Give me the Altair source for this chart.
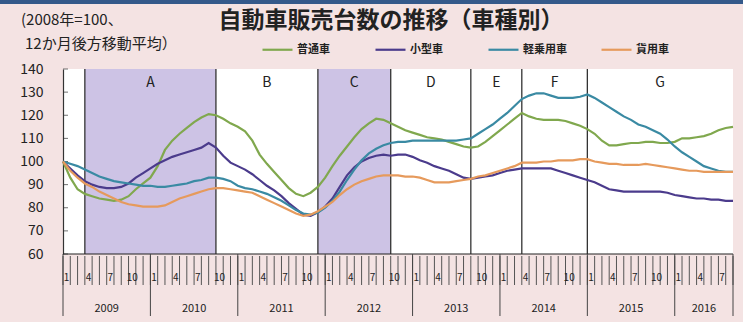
import altair as alt
import pandas as pd

# ---------------- data ----------------
months = ["2008-12"] + [f"{y}-{m:02d}" for y in range(2009, 2017) for m in range(1, 13)][:92]

futsu = [100, 93, 88, 86, 85, 84, 83.5, 83, 83.5, 85, 88, 90.5, 93, 98, 105, 109, 112, 114.5, 117, 119,
         120.5, 120, 118.5, 116.5, 115, 113, 109, 103, 99, 95.5, 92, 88.5, 86, 85, 86.5, 89, 93, 98, 102.5, 106.5,
         110.5, 114, 116.5, 118.5, 118, 116.5, 115, 113.5, 112.5, 111.5, 110.5, 110, 109.5, 108.5, 107.5, 106.5,
         106, 106.5, 108.5, 111, 113.5, 116, 118.5, 121, 119.5, 118.5, 118, 118, 118, 117.5, 116.5, 115.5, 114,
         112, 109, 107, 107, 107.5, 108, 108, 108.5, 108.5, 108, 108, 108.5, 110, 110, 110.5, 111, 112, 113.5,
         114.5, 115]
kogata = [100, 97, 94, 91.5, 90, 89, 88.5, 88.5, 89, 90.5, 93, 95, 97, 99, 100.5, 102, 103, 104, 105, 106,
          108, 106, 102.5, 99.5, 98, 96.5, 94.5, 92, 89.5, 87.5, 85, 82, 79.5, 77, 76.5, 78, 80.5, 84, 89, 94,
          97.5, 100, 101.5, 102.5, 103, 102.5, 103, 103, 102, 100.5, 99.5, 98, 97, 96, 94.5, 93, 92.5, 93, 93.5,
          94, 95, 96, 96.5, 97, 97, 97, 97, 97, 96, 95, 94, 93, 92, 91, 89.5, 88, 87.5, 87, 87, 87, 87, 87, 87,
          86.5, 85.5, 85, 84.5, 84, 84, 83.5, 83.5, 83, 83]
kei = [100, 99, 98, 96.5, 95, 93.5, 92.5, 91.5, 91, 90.5, 90, 89.5, 89.5, 89, 89, 89.5, 90, 90.5, 91.5, 92,
       93, 93, 92.5, 91.5, 89.5, 88.5, 88, 87, 86, 84.5, 83, 81, 79, 77.5, 77, 78, 80, 83, 87, 92, 96.5, 100.5,
       103.5, 105.5, 107, 108, 108.5, 108.5, 109, 109, 109, 109, 109, 109, 109, 109.5, 110, 112, 114, 116,
       118.5, 121, 124, 127, 128.5, 129.5, 129.5, 128.5, 127.5, 127.5, 127.5, 128, 129, 127.5, 125.5, 123.5,
       121.5, 119.5, 118, 116, 115, 113.5, 112, 109.5, 106.5, 104, 102, 100, 98, 97, 96, 95.5, 95.5]
kayo = [100, 96, 93, 90.5, 89, 87, 85.5, 84, 82.5, 81.5, 81, 80.5, 80.5, 80.5, 81, 82.5, 84, 85, 86, 87,
        88, 88.5, 88.5, 88, 87.5, 87, 86.5, 85, 83.5, 82, 80.5, 79, 77.5, 76.5, 77, 78.5, 80.5, 82.5, 85.5, 88,
        90, 91.5, 92.5, 93.5, 94, 94, 94, 93.5, 93.5, 93, 92, 91, 91, 91, 91.5, 92, 92.5, 93.5, 94, 95, 96, 97,
        98, 99.5, 99.5, 99.5, 100, 100, 100.5, 100.5, 100.5, 101, 101, 100, 99.5, 99, 99, 98.5, 98.5, 98.5, 99,
        98.5, 98, 97.5, 97, 96.5, 96, 96, 95.5, 95.5, 95.5, 95.5, 95.5]

series_names = ["普通車", "小型車", "軽乗用車", "貨用車"]
series_colors = ["#80a84e", "#4b3b8c", "#3a8aa3", "#e69a5c"]

region_names = ["A", "B", "C", "D", "E", "F", "G"]
region_start = [3, 21, 35, 45, 56, 63, 72]
region_end = [21, 35, 45, 56, 63, 72, 92]
region_shaded = [True, False, True, False, False, False, False]

years = [2009, 2010, 2011, 2012, 2013, 2014, 2015, 2016]
month_labels = [1, 4, 7, 10]
y_ticks = [60, 70, 80, 90, 100, 110, 120, 130, 140]

title_text = "自動車販売台数の推移（車種別）"
note_line1 = "(2008年=100、"
note_line2 = "12か月後方移動平均）"

# ---------------- tables ----------------
N = len(months) - 1  # 92
df = pd.DataFrame({"t": range(len(months)), "month": months,
                   "普通車": futsu, "小型車": kogata, "軽乗用車": kei, "貨用車": kayo})
long = df.melt(id_vars=["t", "month"], var_name="車種", value_name="指数")

reg = pd.DataFrame({"name": region_names, "start": region_start, "end": region_end,
                    "shaded": region_shaded})
reg["mid"] = (reg["start"] + reg["end"]) / 2

ticks_df = pd.DataFrame({"t": list(range(N + 1))})
ysep = [(y - 2009) * 12 for y in years] + [N]
ysep_df = pd.DataFrame({"t": ysep})
ylab_df = pd.DataFrame({"year": [str(y) for y in years],
                        "c": [(ysep[i] + ysep[i + 1]) / 2 for i in range(len(years))]})
mrows = []
for y in years:
    for m in month_labels:
        pos = (y - 2009) * 12 + (m - 1)
        if pos < N:
            mrows.append({"lab": str(m), "c": pos + 0.5})
mlab_df = pd.DataFrame(mrows)
yt_df = pd.DataFrame({"v": y_ticks})

# ---------------- chart ----------------
W, H = 670, 185
FONT = "Noto Sans CJK JP"
xs = alt.Scale(domain=[0, N], nice=False, zero=False)
ys = alt.Scale(domain=[60, 140], nice=False, zero=False)
yaxis = alt.Axis(values=y_ticks, title=None, grid=False, tickSize=0, labelPadding=20,
                 labelFontSize=14, labelFont=FONT, labelColor="#222222",
                 domainColor="#333333", domainWidth=1.2)

shade = alt.Chart(reg[reg["shaded"]]).mark_rect(color="#cdc3e5").encode(
    x=alt.X("start:Q", scale=xs, axis=None), x2="end:Q",
    y=alt.YDatum(140, scale=ys, axis=yaxis), y2=alt.Y2Datum(60))

bounds = alt.Chart(reg).mark_rule(color="#333333", strokeWidth=1.3).encode(
    x=alt.X("start:Q", scale=xs, axis=None),
    y=alt.YDatum(140, scale=ys, axis=yaxis), y2=alt.Y2Datum(60))

rlab = alt.Chart(reg).mark_text(font=FONT, fontSize=14, color="#222222").encode(
    x=alt.X("mid:Q", scale=xs, axis=None),
    y=alt.YDatum(134, scale=ys, axis=yaxis), text="name:N")

lines = alt.Chart(long).mark_line(strokeWidth=2.2).encode(
    x=alt.X("t:Q", scale=xs, axis=None),
    y=alt.Y("指数:Q", scale=ys, axis=yaxis),
    color=alt.Color("車種:N", sort=series_names,
                    scale=alt.Scale(domain=series_names, range=series_colors),
                    legend=alt.Legend(orient="none", legendX=198, legendY=-36,
                                      direction="horizontal", title=None,
                                      symbolType="stroke", symbolSize=900,
                                      symbolStrokeWidth=2.2, labelFontSize=11,
                                      labelFont=FONT, labelFontWeight="bold",
                                      labelColor="#222222", gridAlign="all",
                                      columnPadding=30, labelOffset=3)),
    order=alt.Order("t:Q"))

yticks = alt.Chart(yt_df).mark_tick(orient="horizontal", size=5, thickness=1,
                                    color="#333333").encode(
    y=alt.Y("v:Q", scale=ys, axis=yaxis), x=alt.value(2.5))

baseline = alt.Chart(yt_df.head(1)).mark_rule(color="#222222", strokeWidth=1.2).encode(
    x=alt.value(0), x2=alt.value(W), y=alt.value(H))

mticks = alt.Chart(ticks_df).mark_rule(color="#555555", strokeWidth=1).encode(
    x=alt.X("t:Q", scale=xs, axis=None), y=alt.value(H + 2), y2=alt.value(H + 31))

ysepm = alt.Chart(ysep_df).mark_rule(color="#444444", strokeWidth=1).encode(
    x=alt.X("t:Q", scale=xs, axis=None), y=alt.value(H), y2=alt.value(H + 62))

mlab = alt.Chart(mlab_df).mark_text(font=FONT, fontSize=10, color="#222222").encode(
    x=alt.X("c:Q", scale=xs, axis=None), y=alt.value(H + 24), text="lab:N")

ylab = alt.Chart(ylab_df).mark_text(font=FONT, fontSize=11, color="#222222").encode(
    x=alt.X("c:Q", scale=xs, axis=None), y=alt.value(H + 55), text="year:N")

one = pd.DataFrame({"a": [0]})
topbar = alt.Chart(one).mark_rect(color="#34598a").encode(
    x=alt.value(-63), x2=alt.value(W + 10), y=alt.value(-69), y2=alt.value(-65))
title = alt.Chart(one).mark_text(text=title_text, font=FONT, fontSize=23, fontWeight="bold",
                                 color="#222222").encode(x=alt.value(328), y=alt.value(-48))
note1 = alt.Chart(one).mark_text(text=note_line1, font=FONT, fontSize=15, align="left",
                                 color="#222222").encode(x=alt.value(-42), y=alt.value(-49))
note2 = alt.Chart(one).mark_text(text=note_line2, font=FONT, fontSize=15, align="left",
                                 color="#222222").encode(x=alt.value(-38), y=alt.value(-25))

chart = alt.layer(shade, bounds, rlab, yticks, baseline, mticks, ysepm, mlab, ylab,
                  lines, topbar, title, note1, note2).properties(
    width=W, height=H,
    padding={"left": 63, "top": 69, "right": 10, "bottom": 68},
    autosize=alt.AutoSizeParams(type="none"),
).configure(background="#f4e3e3").configure_view(fill="white", strokeWidth=0)

chart.save("out.html", embed_options={"renderer": "svg", "actions": False})
